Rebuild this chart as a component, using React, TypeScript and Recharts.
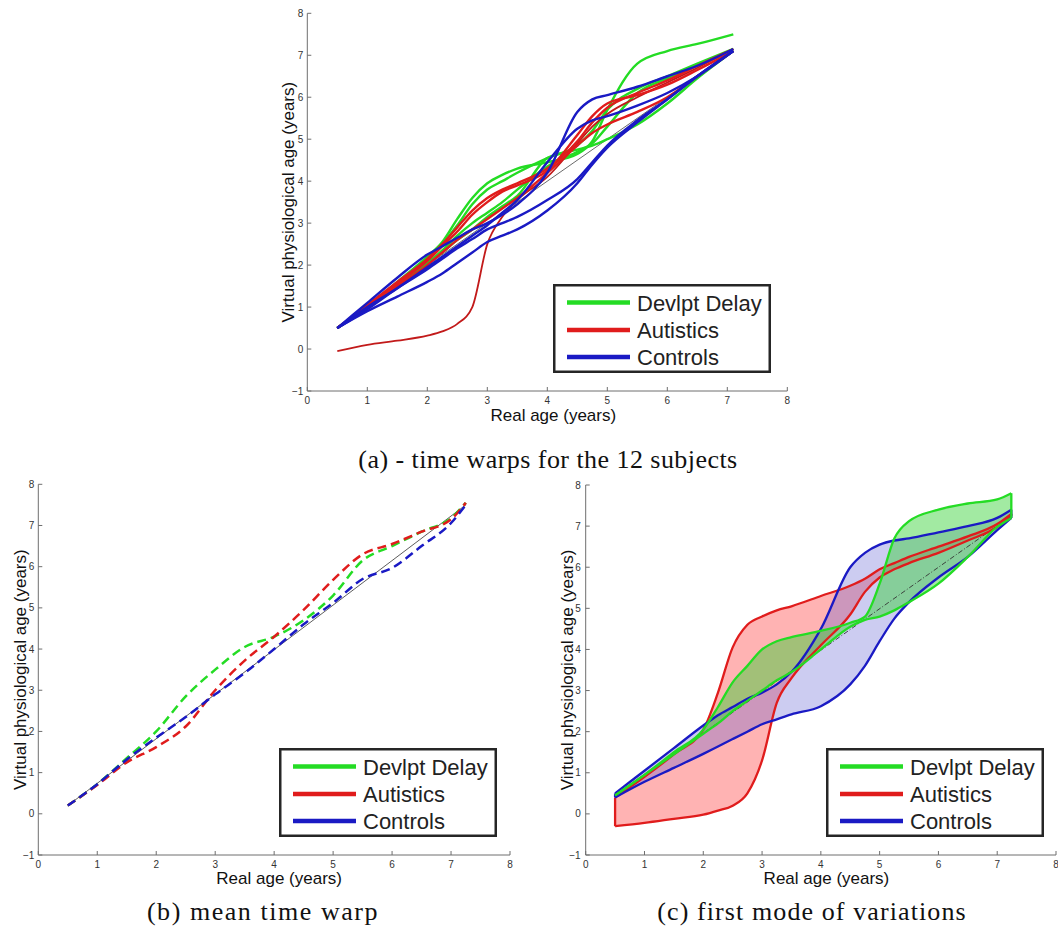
import React from 'react';
import { ComposedChart, Line, Area, XAxis, YAxis, ReferenceLine, Legend } from 'recharts';

// shared axes / legend
const X_TICKS = [0, 1, 2, 3, 4, 5, 6, 7, 8];
const Y_TICKS = [-1, 0, 1, 2, 3, 4, 5, 6, 7, 8];
const GROUPS = ['Devlpt Delay', 'Autistics', 'Controls'];
const GROUP_COLORS = ['#24dc24', '#e01c1c', '#1a1ac4'];

// (a) time warps for the 12 subjects
const AGE_A = [0.5, 1, 1.5, 2, 2.25, 2.5, 2.75, 3, 3.25, 3.5, 4, 4.5, 4.75, 5, 5.5, 6, 6.5, 7.1];
const DELAY_1 = [0.5, 1.0, 1.6, 2.2, 2.55, 3.1, 3.6, 3.95, 4.15, 4.3, 4.45, 4.65, 4.95, 5.7, 6.8, 7.1, 7.27, 7.5];
const DELAY_2 = [0.5, 1.0, 1.55, 2.15, 2.5, 2.95, 3.45, 3.8, 4.0, 4.2, 4.55, 4.85, 5.2, 5.7, 6.2, 6.5, 6.8, 7.15];
const DELAY_3 = [0.5, 1.0, 1.5, 2.05, 2.3, 2.6, 2.85, 3.15, 3.4, 3.65, 4.55, 4.75, 4.85, 5.0, 5.35, 5.85, 6.45, 7.1];
const DELAY_4 = [0.5, 1.0, 1.5, 2.05, 2.35, 2.7, 3.0, 3.25, 3.5, 3.8, 4.35, 4.7, 4.9, 5.3, 6.1, 6.45, 6.75, 7.15];
const AUTIST_1 = [-0.05, 0.1, 0.2, 0.32, 0.42, 0.6, 1.0, 2.5, 3.15, 3.55, 4.1, 4.9, 5.3, 5.6, 6.0, 6.35, 6.7, 7.15];
const AUTIST_2 = [0.5, 1.05, 1.6, 2.15, 2.5, 2.9, 3.3, 3.6, 3.8, 3.95, 4.3, 4.95, 5.4, 5.75, 6.1, 6.4, 6.75, 7.15];
const AUTIST_3 = [0.5, 1.0, 1.55, 2.1, 2.45, 2.8, 3.2, 3.5, 3.75, 3.9, 4.25, 5.1, 5.55, 5.85, 6.05, 6.3, 6.65, 7.1];
const AUTIST_4 = [0.5, 1.0, 1.5, 2.0, 2.3, 2.6, 2.85, 3.1, 3.35, 3.6, 4.2, 4.85, 5.15, 5.35, 5.65, 6.0, 6.5, 7.1];
const CONTROL_1 = [0.5, 1.1, 1.7, 2.25, 2.45, 2.65, 2.85, 3.0, 3.2, 3.45, 4.2, 5.65, 5.95, 6.05, 6.25, 6.5, 6.75, 7.15];
const CONTROL_2 = [0.5, 1.0, 1.45, 1.95, 2.2, 2.45, 2.7, 2.95, 3.25, 3.55, 4.45, 5.25, 5.45, 5.55, 5.8, 6.1, 6.5, 7.1];
const CONTROL_3 = [0.5, 0.95, 1.45, 1.9, 2.15, 2.4, 2.62, 2.85, 3.0, 3.15, 3.55, 4.05, 4.45, 4.85, 5.45, 5.95, 6.5, 7.1];
const CONTROL_4 = [0.5, 0.9, 1.25, 1.6, 1.8, 2.05, 2.3, 2.55, 2.7, 2.85, 3.3, 3.95, 4.4, 4.8, 5.4, 5.95, 6.5, 7.1];
const IDENTITY_A = [0.5, 7.1];

// (b) mean time warp
const AGE_B = [0.5, 1, 1.5, 2, 2.5, 3, 3.5, 4, 4.5, 5, 5.5, 6, 6.5, 7, 7.25];
const MEAN_DELAY = [0.2, 0.72, 1.35, 2.0, 2.85, 3.5, 4.05, 4.3, 4.7, 5.3, 6.15, 6.5, 6.85, 7.18, 7.55];
const MEAN_AUTIST = [0.2, 0.7, 1.25, 1.62, 2.12, 3.0, 3.72, 4.3, 4.95, 5.68, 6.3, 6.55, 6.85, 7.15, 7.55];
const MEAN_CONTROL = [0.2, 0.72, 1.32, 1.85, 2.35, 2.9, 3.42, 4.0, 4.6, 5.12, 5.7, 5.97, 6.5, 7.06, 7.5];
const REF_B = [[0.5, 0.2], [7.25, 7.5]];

// (c) first mode of variations
const AGE_C = [0.5, 1, 1.5, 2, 2.25, 2.5, 2.75, 3, 3.25, 3.5, 4, 4.5, 4.75, 5, 5.25, 5.5, 6, 6.5, 7, 7.24];
const DELAY_HI = [0.45, 0.95, 1.5, 2.05, 2.6, 3.2, 3.6, 4.0, 4.2, 4.3, 4.45, 4.65, 4.8, 5.6, 6.7, 7.12, 7.4, 7.55, 7.65, 7.8];
const DELAY_LO = [0.45, 0.95, 1.45, 1.95, 2.2, 2.5, 2.75, 3.0, 3.25, 3.45, 4.0, 4.55, 4.72, 4.8, 4.95, 5.15, 5.6, 6.25, 6.98, 7.2];
const AUTIST_HI = [0.4, 0.9, 1.45, 2.05, 2.95, 4.05, 4.6, 4.8, 4.95, 5.05, 5.3, 5.55, 5.72, 5.95, 6.1, 6.25, 6.5, 6.75, 7.05, 7.3];
const AUTIST_LO = [-0.3, -0.22, -0.12, -0.02, 0.08, 0.2, 0.5, 1.3, 2.7, 3.3, 4.1, 4.85, 5.4, 5.75, 5.95, 6.1, 6.35, 6.65, 6.98, 7.25];
const CONTROL_HI = [0.5, 1.05, 1.6, 2.15, 2.4, 2.6, 2.8, 2.95, 3.15, 3.45, 4.5, 6.0, 6.35, 6.55, 6.65, 6.7, 6.85, 7.0, 7.2, 7.4];
const CONTROL_LO = [0.4, 0.78, 1.12, 1.46, 1.64, 1.82, 2.0, 2.18, 2.3, 2.42, 2.62, 3.15, 3.6, 4.2, 4.75, 5.15, 5.75, 6.25, 6.9, 7.2];
const MEAN_C = [[0.5, 0.45], [7.24, 7.25]];

const SUBJECTS_A = [
  { key: 'd1', group: 0, values: DELAY_1 },
  { key: 'd2', group: 0, values: DELAY_2 },
  { key: 'd3', group: 0, values: DELAY_3 },
  { key: 'd4', group: 0, values: DELAY_4 },
  { key: 'a1', group: 1, values: AUTIST_1 },
  { key: 'a2', group: 1, values: AUTIST_2 },
  { key: 'a3', group: 1, values: AUTIST_3 },
  { key: 'a4', group: 1, values: AUTIST_4 },
  { key: 'c1', group: 2, values: CONTROL_1 },
  { key: 'c2', group: 2, values: CONTROL_2 },
  { key: 'c3', group: 2, values: CONTROL_3 },
  { key: 'c4', group: 2, values: CONTROL_4 },
];

const MEANS_B = [MEAN_DELAY, MEAN_AUTIST, MEAN_CONTROL];
const BANDS_C = [
  { lo: AUTIST_LO, hi: AUTIST_HI, group: 1 },
  { lo: CONTROL_LO, hi: CONTROL_HI, group: 2 },
  { lo: DELAY_LO, hi: DELAY_HI, group: 0 },
];

const rowsA = AGE_A.map((x, i) => {
  const row: Record<string, number> = { x };
  SUBJECTS_A.forEach((s) => {
    row[s.key] = s.values[i];
  });
  return row;
});

const rowsB = AGE_B.map((x, i) => {
  const row: Record<string, number> = { x };
  MEANS_B.forEach((m, g) => {
    row[`m${g}`] = m[i];
  });
  return row;
});

const rowsC = AGE_C.map((x, i) => {
  const row: Record<string, any> = { x };
  BANDS_C.forEach((b) => {
    row[`lo${b.group}`] = b.lo[i];
    row[`hi${b.group}`] = b.hi[i];
    row[`band${b.group}`] = [b.lo[i], b.hi[i]];
  });
  return row;
});

const SANS = '"Liberation Sans", Arial, Helvetica, sans-serif';
const AXIS_COLOR = '#6e6e6e';
const TICK = { fontSize: 10, fill: '#333', fontFamily: SANS };
const TITLE = { fontSize: 17, fill: '#111', fontFamily: SANS };
const BAND_FILLS = ['#30d030', '#ff4040', '#5555d0'];
const BAND_OPACITY = [0.45, 0.4, 0.3];

const fmtTick = (v: number) => (v < 0 ? `\u2212${-v}` : `${v}`);

function axes(o: {
  xHeight: number;
  yWidth: number;
  xOffset: number;
  xDx: number;
  yOffset: number;
  yTickMargin: number;
}) {
  return [
    <XAxis
      key="x"
      type="number"
      dataKey="x"
      domain={[0, 8]}
      ticks={X_TICKS}
      interval={0}
      allowDataOverflow
      height={o.xHeight}
      tickSize={-4}
      tickMargin={9.5}
      tick={TICK}
      tickFormatter={fmtTick}
      axisLine={{ stroke: AXIS_COLOR }}
      tickLine={{ stroke: AXIS_COLOR }}
      label={{ value: 'Real age (years)', position: 'insideBottom', offset: o.xOffset, dx: o.xDx, style: TITLE }}
    />,
    <YAxis
      key="y"
      type="number"
      domain={[-1, 8]}
      ticks={Y_TICKS}
      interval={0}
      allowDataOverflow
      width={o.yWidth}
      tickSize={-4}
      tickMargin={o.yTickMargin}
      tick={TICK}
      tickFormatter={fmtTick}
      axisLine={{ stroke: AXIS_COLOR }}
      tickLine={{ stroke: AXIS_COLOR }}
      label={{
        value: 'Virtual physiological age (years)',
        angle: -90,
        position: 'insideLeft',
        offset: o.yOffset,
        style: { ...TITLE, textAnchor: 'middle' },
      }}
    />,
  ];
}

const LEG_W = 218;
const LEG_H = 89;
const LEG_ROWS = [18.5, 46, 73];

function LegendBox() {
  return (
    <svg width={LEG_W} height={LEG_H} style={{ display: 'block' }}>
      <rect x={1.25} y={1.25} width={LEG_W - 2.5} height={LEG_H - 2.5} fill="#fff" stroke="#262626" strokeWidth={2.5} />
      {GROUPS.map((g, i) => (
        <g key={g}>
          <line x1={14} x2={77} y1={LEG_ROWS[i]} y2={LEG_ROWS[i]} stroke={GROUP_COLORS[i]} strokeWidth={4.5} />
          <text x={84} y={LEG_ROWS[i] + 8} fontSize={22} fill="#222" fontFamily={SANS}>
            {g}
          </text>
        </g>
      ))}
    </svg>
  );
}

function legendAt(left: number, top: number) {
  return (
    <Legend
      key="legend"
      layout="horizontal"
      verticalAlign="middle"
      align="center"
      wrapperStyle={{ left, top, width: LEG_W, height: LEG_H }}
      content={() => <LegendBox />}
    />
  );
}

const CAPTION = {
  position: 'absolute' as const,
  fontFamily: '"Liberation Serif", "Times New Roman", serif',
  fontSize: 26,
  color: '#111',
  textAlign: 'center' as const,
  whiteSpace: 'nowrap' as const,
};

export default function App() {
  return (
    <div style={{ position: 'absolute', left: 0, top: 0, width: 1058, height: 938, background: '#fff', overflow: 'hidden' }}>
      {/* (a) */}
      <div style={{ position: 'absolute', left: 230, top: 0 }}>
        <ComposedChart width={580} height={430} data={rowsA} margin={{ top: 13.3, right: 22.7, bottom: 0, left: 0 }}>
          {axes({ xHeight: 39, yWidth: 77.3, xOffset: 9, xDx: 6, yOffset: 58, yTickMargin: 8 })}
          <ReferenceLine
            segment={[
              { x: IDENTITY_A[0], y: IDENTITY_A[0] },
              { x: IDENTITY_A[1], y: IDENTITY_A[1] },
            ]}
            stroke="#444"
            strokeWidth={0.8}
          />
          {SUBJECTS_A.map((s) => (
            <Line
              key={s.key}
              dataKey={s.key}
              type="monotone"
              stroke={s.key === 'a1' ? '#c21a1a' : GROUP_COLORS[s.group]}
              strokeWidth={s.key === 'a1' ? 1.8 : 2.4}
              dot={false}
              activeDot={false}
              isAnimationActive={false}
            />
          ))}
          {legendAt(323, 284)}
        </ComposedChart>
      </div>
      <div style={{ ...CAPTION, letterSpacing: 0.45, left: 248, width: 600, top: 445 }}>
        (a) - time warps for the 12 subjects
      </div>

      {/* (b) */}
      <div style={{ position: 'absolute', left: 0, top: 470 }}>
        <ComposedChart width={540} height={420} data={rowsB} margin={{ top: 14.3, right: 30, bottom: 0, left: 0 }}>
          {axes({ xHeight: 35, yWidth: 38.3, xOffset: 6, xDx: 5, yOffset: 20, yTickMargin: 8 })}
          <ReferenceLine
            segment={[
              { x: REF_B[0][0], y: REF_B[0][1] },
              { x: REF_B[1][0], y: REF_B[1][1] },
            ]}
            stroke="#333"
            strokeWidth={0.8}
          />
          {MEANS_B.map((_, g) => (
            <Line
              key={g}
              dataKey={`m${g}`}
              type="monotone"
              stroke={GROUP_COLORS[g]}
              strokeWidth={2.5}
              strokeDasharray="9 5"
              dot={false}
              activeDot={false}
              isAnimationActive={false}
            />
          ))}
          {legendAt(279, 278)}
        </ComposedChart>
      </div>
      <div style={{ ...CAPTION, letterSpacing: 1.55, left: 13, width: 500, top: 897 }}>(b) mean time warp</div>

      {/* (c) */}
      <div style={{ position: 'absolute', left: 530, top: 470 }}>
        <ComposedChart width={528} height={420} data={rowsC} margin={{ top: 15, right: 2, bottom: 0, left: 0 }}>
          {axes({ xHeight: 35, yWidth: 55.7, xOffset: 6, xDx: 5.6, yOffset: 37, yTickMargin: 9 })}
          {BANDS_C.map((b) => (
            <Area
              key={`band${b.group}`}
              dataKey={`band${b.group}`}
              type="monotone"
              stroke="none"
              fill={BAND_FILLS[b.group]}
              fillOpacity={BAND_OPACITY[b.group]}
              dot={false}
              activeDot={false}
              isAnimationActive={false}
            />
          ))}
          <ReferenceLine
            segment={[
              { x: MEAN_C[0][0], y: MEAN_C[0][1] },
              { x: MEAN_C[1][0], y: MEAN_C[1][1] },
            ]}
            stroke="#333"
            strokeWidth={0.9}
            strokeDasharray="5 2 1 2"
          />
          {BANDS_C.flatMap((b) => [
            <Line
              key={`lo${b.group}`}
              dataKey={`lo${b.group}`}
              type="monotone"
              stroke={GROUP_COLORS[b.group]}
              strokeWidth={2.3}
              dot={false}
              activeDot={false}
              isAnimationActive={false}
            />,
            <Line
              key={`hi${b.group}`}
              dataKey={`hi${b.group}`}
              type="monotone"
              stroke={GROUP_COLORS[b.group]}
              strokeWidth={2.3}
              dot={false}
              activeDot={false}
              isAnimationActive={false}
            />,
            <ReferenceLine
              key={`start${b.group}`}
              segment={[
                { x: AGE_C[0], y: b.lo[0] },
                { x: AGE_C[0], y: b.hi[0] },
              ]}
              stroke={GROUP_COLORS[b.group]}
              strokeWidth={2.3}
            />,
            <ReferenceLine
              key={`end${b.group}`}
              segment={[
                { x: AGE_C[AGE_C.length - 1], y: b.lo[b.lo.length - 1] },
                { x: AGE_C[AGE_C.length - 1], y: b.hi[b.hi.length - 1] },
              ]}
              stroke={GROUP_COLORS[b.group]}
              strokeWidth={2.3}
            />,
          ])}
          {legendAt(296, 278)}
        </ComposedChart>
      </div>
      <div style={{ ...CAPTION, letterSpacing: 1.1, left: 562, width: 500, top: 897 }}>
        (c) first mode of variations
      </div>
    </div>
  );
}
